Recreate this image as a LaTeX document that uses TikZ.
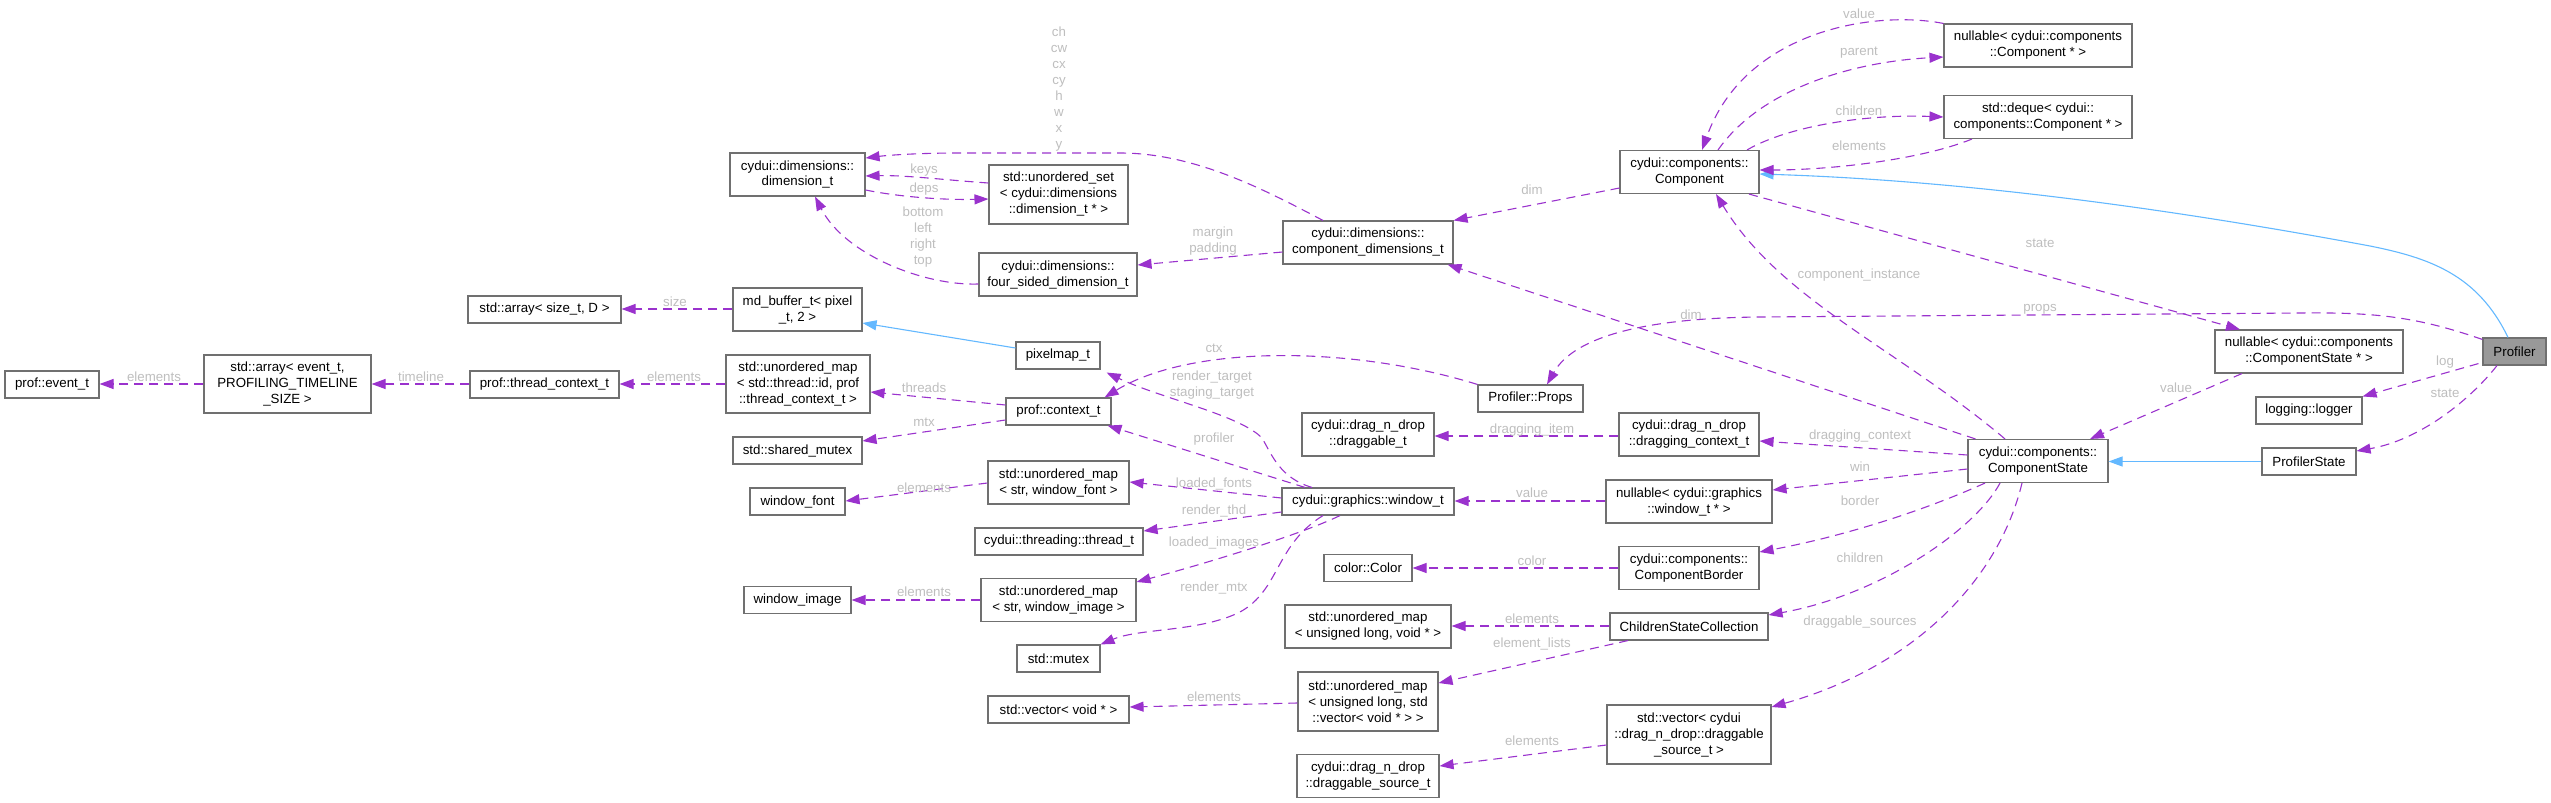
\documentclass[tikz,border=0pt]{standalone}
\usepackage{fontspec}
\setmainfont{Liberation Sans}
\usetikzlibrary{arrows.meta,calc}
\definecolor{edgepurple}{HTML}{9A32CD}
\definecolor{inhblue}{HTML}{63B8FF}
\definecolor{boxgray}{HTML}{707070}
\definecolor{lblgray}{HTML}{BEBEBE}
\definecolor{proffill}{HTML}{999999}
\tikzset{
 box/.style={draw=boxgray, line width=1.1pt, fill=white, inner sep=0pt, align=center, font=\fontsize{13.3}{16}\selectfont},
 wh/.style 2 args={minimum width=#1pt, minimum height=#2pt},
 lbl/.style={text=lblgray, inner sep=0pt, align=center, font=\fontsize{13.3}{16}\selectfont},
 dep/.style={draw=edgepurple, line width=1.1pt, dash pattern=on 9pt off 6pt, -{Triangle[length=14pt,width=10pt,fill=edgepurple]}},
 inh/.style={draw=inhblue, line width=1.1pt, -{Triangle[length=14pt,width=10pt,fill=inhblue]}},
}
\begin{document}
\begin{tikzpicture}[x=1pt,y=-1pt]
\useasboundingbox (0,0) rectangle (2551,803);
% ---- nodes ----
\node[box,wh={94}{27}] (evt) at (52,384.5) {prof::event\_t};
\node[box,wh={167}{58}] (arrEvt) at (287.5,384) {std::array< event\_t,\\ PROFILING\_TIMELINE\\ \_SIZE >};
\node[box,wh={149}{27}] (thrCtx) at (544.5,384.5) {prof::thread\_context\_t};
\node[box,wh={153}{27}] (arrSize) at (544.5,309.5) {std::array< size\_t, D >};
\node[box,wh={129}{43}] (mdbuf) at (797.5,309.5) {md\_buffer\_t< pixel\\ \_t, 2 >};
\node[box,wh={135}{43}] (dimT) at (797.5,174.5) {cydui::dimensions::\\ dimension\_t};
\node[box,wh={139}{59}] (uset) at (1058.5,194.5) {std::unordered\_set\\ < cydui::dimensions\\ ::dimension\_t * >};
\node[box,wh={158}{43}] (fourS) at (1058,274.5) {cydui::dimensions::\\ four\_sided\_dimension\_t};
\node[box,wh={144}{58}] (umapThr) at (798,384) {std::unordered\_map\\ < std::thread::id, prof\\ ::thread\_context\_t >};
\node[box,wh={129}{27}] (shmtx) at (797.5,450.5) {std::shared\_mutex};
\node[box,wh={84}{27}] (pixmap) at (1058,355.5) {pixelmap\_t};
\node[box,wh={105}{27}] (pctx) at (1058.5,411.5) {prof::context\_t};
\node[box,wh={141}{43}] (umapFont) at (1058.5,482.5) {std::unordered\_map\\ < str, window\_font >};
\node[box,wh={95}{27}] (wfont) at (797.5,501.5) {window\_font};
\node[box,wh={168}{27}] (thrd) at (1059,541.5) {cydui::threading::thread\_t};
\node[box,wh={107}{27}] (wimg) at (797.5,600) {window\_image};
\node[box,wh={155}{43}] (umapImg) at (1058.5,600) {std::unordered\_map\\ < str, window\_image >};
\node[box,wh={83}{27}] (mtx) at (1058.5,658.5) {std::mutex};
\node[box,wh={141}{27}] (vecVoid) at (1058.5,709.5) {std::vector< void * >};
\node[box,wh={172}{27}] (win) at (1368,501.5) {cydui::graphics::window\_t};
\node[box,wh={170}{43}] (cdim) at (1368,242.5) {cydui::dimensions::\\ component\_dimensions\_t};
\node[box,wh={105}{27}] (props) at (1530.5,398.5) {Profiler::Props};
\node[box,wh={132}{43}] (drg) at (1368,434.5) {cydui::drag\_n\_drop\\ ::draggable\_t};
\node[box,wh={140}{43}] (drgCtx) at (1689,434.5) {cydui::drag\_n\_drop\\ ::dragging\_context\_t};
\node[box,wh={166}{43}] (nWin) at (1689,501.5) {nullable< cydui::graphics\\ ::window\_t * >};
\node[box,wh={88}{27}] (color) at (1368,568) {color::Color};
\node[box,wh={140}{43}] (border) at (1689,568) {cydui::components::\\ ComponentBorder};
\node[box,wh={166}{43}] (umapVoid) at (1368,626.5) {std::unordered\_map\\ < unsigned long, void * >};
\node[box,wh={158}{27}] (csc) at (1689,626.5) {ChildrenStateCollection};
\node[box,wh={140}{59}] (umapVec) at (1368,701.5) {std::unordered\_map\\ < unsigned long, std\\ ::vector< void * > >};
\node[box,wh={164}{59}] (vecDrag) at (1689,734.5) {std::vector< cydui\\ ::drag\_n\_drop::draggable\\ \_source\_t >};
\node[box,wh={142}{43}] (dsrc) at (1368,776) {cydui::drag\_n\_drop\\ ::draggable\_source\_t};
\node[box,wh={139}{43}] (comp) at (1689.5,172) {cydui::components::\\ Component};
\node[box,wh={188}{43}] (nComp) at (2038,45.5) {nullable< cydui::components\\ ::Component * >};
\node[box,wh={188}{43}] (deque) at (2038,117) {std::deque< cydui::\\ components::Component * >};
\node[box,wh={140}{43}] (cs) at (2038,461) {cydui::components::\\ ComponentState};
\node[box,wh={188}{43}] (nCS) at (2309,351.5) {nullable< cydui::components\\ ::ComponentState * >};
\node[box,wh={63}{27},fill=proffill] (prof) at (2514.5,351.5) {Profiler};
\node[box,wh={106}{27}] (logger) at (2309,410.5) {logging::logger};
\node[box,wh={94}{27}] (pstate) at (2309,461.5) {ProfilerState};
% ---- edges ----
\draw[dep] (arrEvt.west |- 0,384) -- (evt.east |- 0,384);
\node[lbl] (l1) at (154,377) {elements};
\draw[dep] (thrCtx.west |- 0,384) -- (arrEvt.east |- 0,384);
\node[lbl] (l2) at (421,377) {timeline};
\draw[dep] (mdbuf.west |- 0,309) -- (arrSize.east |- 0,309);
\node[lbl] (l3) at (675,302) {size};
\draw[dep] (umapThr.west |- 0,384) -- (thrCtx.east |- 0,384);
\node[lbl] (l4) at (674,377) {elements};
\draw[dep] (uset.west |- 0,183) .. controls (945,180) and (905,175) .. (dimT.east |- 0,176);
\node[lbl] (l5) at (924,170) {keys};
\draw[dep] (dimT.east |- 0,190) .. controls (905,198) and (950,200) .. (uset.west |- 0,199);
\node[lbl] (l6) at (924,189) {deps};
\draw[dep] (fourS.west |- 0,284) .. controls (925,286) and (845,255) .. (dimT.south -| 815,0);
\node[lbl] (l7) at (923,237.5) {bottom\\left\\right\\top};
\draw[dep] (cdim.west |- 0,252) -- (fourS.east |- 0,265);
\node[lbl] (l8) at (1213,241) {margin\\padding};
\draw[dep] (cdim.north -| 1323,0) .. controls (1265,190) and (1195,153) .. (1120,153) -- (960,153) .. controls (920,153) and (890,155) .. (dimT.east |- 0,158);
\node[lbl] (l9) at (1059,89.5) {ch\\cw\\cx\\cy\\h\\w\\x\\y};
\draw[dep] (comp.west |- 0,188) -- (cdim.north east);
\node[lbl] (l10) at (1532,190) {dim};
\draw[dep] ($(cs.north west)+(8,0)$) -- ($(cdim.south east)+(-6,0)$);
\node[lbl] (l11) at (1691,315) {dim};
\draw[dep] (cs.north -| 2005,0) .. controls (1900,350) and (1780,300) .. (comp.south -| 1716,0);
\node[lbl] (l12) at (1859,275) {component\_instance};
\draw[dep] ($(prof.north west)+(0,2)$) .. controls (2420,318) and (2380,312) .. (2300,313) -- (1760,317) .. controls (1650,318) and (1575,335) .. (props.north -| 1547,0);
\node[lbl] (l13) at (2040,309) {props};
\draw[dep] ($(prof.south west)+(-4,-2)$) -- (logger.north east);
\node[lbl] (l14) at (2445,362) {log};
\draw[dep] (prof.south -| 2497,0) .. controls (2470,400) and (2420,440) .. (pstate.east |- 0,451);
\node[lbl] (l15) at (2445,393) {state};
\draw[inh] (prof.north -| 2508,0) .. controls (2478,275) and (2430,258) .. (2370,246) .. controls (2150,205) and (1950,180) .. (comp.east |- 0,174);
\draw[inh] (pstate.west) -- (cs.east |- 0,461.5);
\draw[inh] (pixmap.west |- 0,348) -- (mdbuf.east |- 0,323);
\draw[dep] (nCS.south -| 2242,0) -- (cs.north -| 2090,0);
\node[lbl] (l16) at (2176,388) {value};
\draw[dep] (comp.south -| 1749,0) -- (nCS.north -| 2240,0);
\node[lbl] (l17) at (2040,243) {state};
\draw[dep] (comp.north -| 1718,0) .. controls (1760,90) and (1850,62) .. (nComp.west |- 0,57);
\node[lbl] (l18) at (1859,53) {parent};
\draw[dep] (nComp.north west) .. controls (1875,10) and (1745,30) .. (comp.north -| 1702,0);
\node[lbl] (l19) at (1859,14) {value};
\draw[dep] (comp.north -| 1747,0) .. controls (1790,125) and (1870,114) .. (deque.west |- 0,117);
\node[lbl] (l20) at (1859,111) {children};
\draw[dep] (deque.south -| 1972,0) .. controls (1920,160) and (1830,170) .. (comp.east |- 0,170);
\node[lbl] (l21) at (1859,146) {elements};
\draw[dep] (win.north -| 1312,0) .. controls (1280,478) and (1272,455) .. (1262,438) .. controls (1240,415) and (1160,398) .. ($(pixmap.south east)+(6,3)$);
\node[lbl] (l22) at (1212,385) {render\_target\\staging\_target};
\draw[dep] (win.north -| 1305,0) -- ($(pctx.south east)+(-4,0)$);
\node[lbl] (l23) at (1214,439) {profiler};
\draw[dep] (win.west |- 0,498) -- (umapFont.east |- 0,482);
\node[lbl] (l24) at (1214,484) {loaded\_fonts};
\draw[dep] (win.west |- 0,512) -- (thrd.east |- 0,531);
\node[lbl] (l25) at (1214,511) {render\_thd};
\draw[dep] (win.south -| 1340,0) .. controls (1300,535) and (1200,565) .. (umapImg.east |- 0,582);
\node[lbl] (l26) at (1214,543) {loaded\_images};
\draw[dep] (win.south -| 1323,0) .. controls (1275,545) and (1280,590) .. (1240,612) .. controls (1200,632) and (1140,628) .. (mtx.north east);
\node[lbl] (l27) at (1214,588) {render\_mtx};
\draw[dep] (pctx.west |- 0,405) -- (umapThr.east |- 0,392);
\node[lbl] (l28) at (924,388) {threads};
\draw[dep] (pctx.west |- 0,420) -- (shmtx.east |- 0,441);
\node[lbl] (l29) at (924,422) {mtx};
\draw[dep] (umapFont.west |- 0,483) -- (wfont.east |- 0,501);
\node[lbl] (l30) at (924,488) {elements};
\draw[dep] (umapImg.west |- 0,600) -- (wimg.east |- 0,600);
\node[lbl] (l31) at (924,592) {elements};
\draw[dep] (umapVec.west |- 0,703) -- (vecVoid.east |- 0,707);
\node[lbl] (l32) at (1214,697) {elements};
\draw[dep] (nWin.west |- 0,501) -- (win.east |- 0,501);
\node[lbl] (l33) at (1532,493) {value};
\draw[dep] (drgCtx.west |- 0,436) -- (drg.east |- 0,436);
\node[lbl] (l34) at (1532,430) {dragging\_item};
\draw[dep] (border.west |- 0,568) -- (color.east |- 0,568);
\node[lbl] (l35) at (1532,561) {color};
\draw[dep] (csc.west |- 0,626) -- (umapVoid.east |- 0,626);
\node[lbl] (l36) at (1532,619) {elements};
\draw[dep] (csc.south -| 1628,0) -- (umapVec.east |- 0,683);
\node[lbl] (l37) at (1532,644) {element\_lists};
\draw[dep] (vecDrag.west |- 0,745) -- (dsrc.east |- 0,766);
\node[lbl] (l38) at (1532,741) {elements};
\draw[dep] (props.north west) .. controls (1350,345) and (1190,345) .. ($(pctx.north east)+(-7,0)$);
\node[lbl] (l39) at (1214,348) {ctx};
\draw[dep] (cs.west |- 0,455) -- (drgCtx.east |- 0,441);
\node[lbl] (l40) at (1860,436) {dragging\_context};
\draw[dep] (cs.west |- 0,469) -- (nWin.east |- 0,490);
\node[lbl] (l41) at (1860,467) {win};
\draw[dep] (cs.south -| 1985,0) .. controls (1930,508) and (1850,535) .. (border.east |- 0,552);
\node[lbl] (l42) at (1860,501) {border};
\draw[dep] (cs.south -| 2000,0) .. controls (1975,530) and (1880,595) .. (csc.east |- 0,615);
\node[lbl] (l43) at (1860,558) {children};
\draw[dep] (cs.south -| 2022,0) .. controls (2000,575) and (1920,665) .. (vecDrag.east |- 0,707);
\node[lbl] (l44) at (1860,622) {draggable\_sources};
\end{tikzpicture}
\end{document}
